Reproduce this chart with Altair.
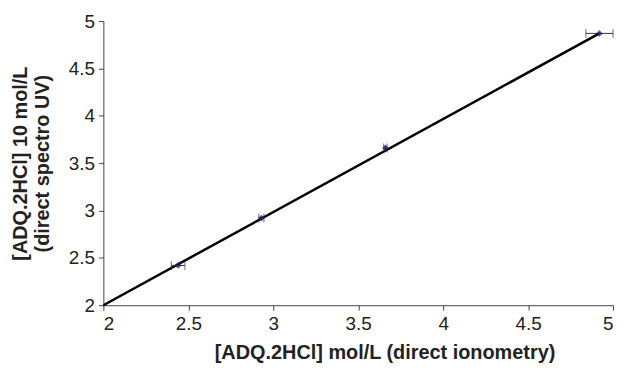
import altair as alt
import pandas as pd

# Data
x_vals = [2.44, 2.93, 3.66, 4.92]
y_vals = [2.42, 2.92, 3.66, 4.87]
x_err = [0.04, 0.015, 0.01, 0.08]
y_err = [0.01, 0.02, 0.03, 0.01]

fit_x = [2.0, 4.92]
fit_y = [2.0, 4.87]

ticks = [2, 2.5, 3, 3.5, 4, 4.5, 5]

pts = pd.DataFrame({
    "x": x_vals, "y": y_vals,
    "xlo": [a - e for a, e in zip(x_vals, x_err)],
    "xhi": [a + e for a, e in zip(x_vals, x_err)],
    "ylo": [a - e for a, e in zip(y_vals, y_err)],
    "yhi": [a + e for a, e in zip(y_vals, y_err)],
})
fit = pd.DataFrame({"x": fit_x, "y": fit_y})

xscale = alt.Scale(domain=[2, 5], nice=False, zero=False)
yscale = alt.Scale(domain=[2, 5], nice=False, zero=False)

xaxis = alt.Axis(
    values=ticks, format="~g", grid=False,
    title="[ADQ.2HCl] mol/L (direct ionometry)",
    titleX=283, titleY=38, titleBaseline="top", titleAnchor="middle",
)
yaxis = alt.Axis(
    values=ticks, format="~g", grid=False,
    title=["[ADQ.2HCl] 10 mol/L", "(direct spectro UV)"],
    titlePadding=16,
)

base = alt.Chart(pts)

line = alt.Chart(fit).mark_line(color="black", strokeWidth=2.5).encode(
    x=alt.X("x:Q", scale=xscale, axis=xaxis),
    y=alt.Y("y:Q", scale=yscale, axis=yaxis),
)

xbar = base.mark_rule(color="#333333", strokeWidth=1).encode(
    x=alt.X("xlo:Q", scale=xscale), x2="xhi:Q", y=alt.Y("y:Q", scale=yscale)
)
ybar = base.mark_rule(color="#333333", strokeWidth=1).encode(
    y=alt.Y("ylo:Q", scale=yscale), y2="yhi:Q", x=alt.X("x:Q", scale=xscale)
)
xcap_lo = base.mark_tick(color="#333333", orient="vertical", size=9, thickness=1).encode(
    x=alt.X("xlo:Q", scale=xscale), y=alt.Y("y:Q", scale=yscale)
)
xcap_hi = base.mark_tick(color="#333333", orient="vertical", size=9, thickness=1).encode(
    x=alt.X("xhi:Q", scale=xscale), y=alt.Y("y:Q", scale=yscale)
)
points = base.mark_point(shape="diamond", filled=True, color="#1c1c6b", size=45).encode(
    x=alt.X("x:Q", scale=xscale), y=alt.Y("y:Q", scale=yscale)
)

chart = alt.layer(line, xbar, ybar, xcap_lo, xcap_hi, points).properties(
    width=513, height=286,
    autosize=alt.AutoSizeParams(type="none"),
    padding={"left": 96, "top": 12, "right": 5, "bottom": 57},
    background="white",
).configure_view(stroke=None).configure_axis(
    labelFont="Liberation Sans", labelFontSize=19, labelColor="#222222",
    titleFont="Liberation Sans", titleFontSize=20, titleFontWeight="bold", titleColor="#222222",
    domainColor="#444444", tickColor="#444444", tickSize=5, labelPadding=4,
    titleLineHeight=22,
)

chart.save("out.html", embed_options={"renderer": "svg", "actions": False})
